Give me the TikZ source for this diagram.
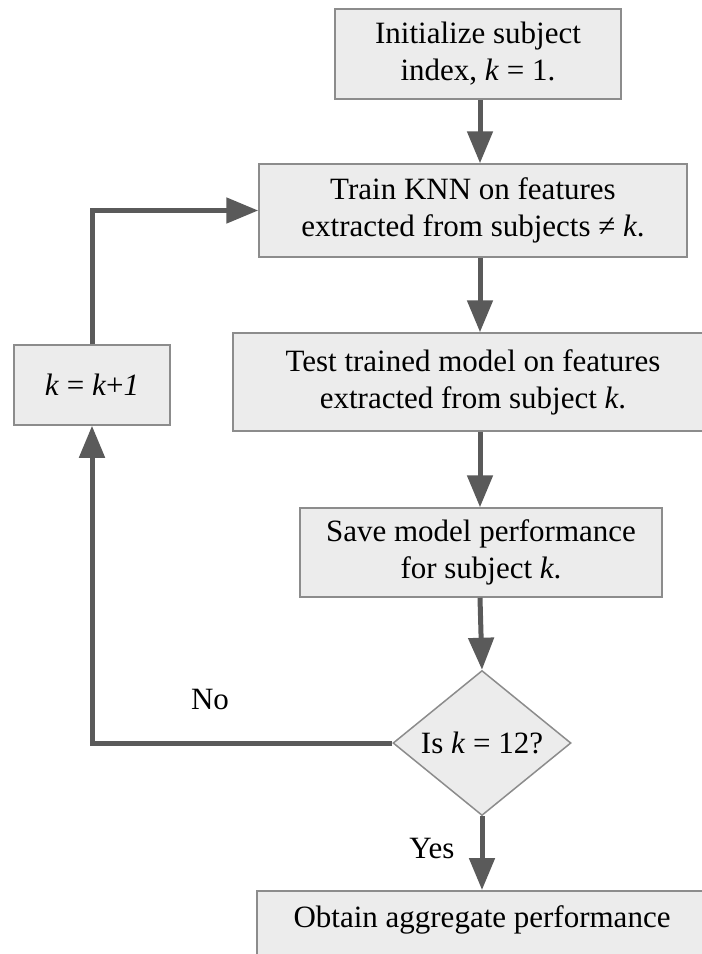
\documentclass[tikz,border=0pt]{standalone}
\usepackage{fontspec}
\setmainfont{Liberation Serif}
\usetikzlibrary{shapes.geometric,arrows.meta}
\definecolor{boxfill}{HTML}{ECECEC}
\definecolor{boxline}{HTML}{8C8C8C}
\definecolor{arrowc}{HTML}{5A5A5A}
\tikzset{
  stepbox/.style={draw=boxline, line width=1.5pt, fill=boxfill, align=center, inner sep=0pt},
  decbox/.style={diamond, draw=boxline, line width=1.5pt, fill=boxfill, inner sep=0pt, minimum width=178pt, minimum height=145pt},
  flow/.style={draw=arrowc, line width=5pt, -{Triangle[length=32pt,width=25pt]}},
  plainflow/.style={draw=arrowc, line width=5pt},
  lbl/.style={inner sep=0pt}
}
\begin{document}
\begin{tikzpicture}[x=1pt,y=-1pt,font=\fontsize{31}{37}\selectfont]
\useasboundingbox (0,0) rectangle (702,954);
\fill[white] (0,0) rectangle (702,954);
\clip (0,0) rectangle (702,954);
\node[stepbox, minimum width=286pt, minimum height=90pt] (init) at (478,54) {Initialize subject\\index, \textit{k} = 1.};
\node[stepbox, minimum width=428pt, minimum height=93pt] (train) at (473,210.5) {Train KNN on features\\extracted from subjects ≠ \textit{k}.};
\node[stepbox, minimum width=480pt, minimum height=98pt] (test) at (473,382) {Test trained model on features\\extracted from subject \textit{k}.};
\node[stepbox, minimum width=362pt, minimum height=89pt] (save) at (481,552.5) {Save model performance\\for subject \textit{k}.};
\node[decbox] (dec) at (482,743) {Is \textit{k} = 12?};
\node[stepbox, minimum width=156pt, minimum height=80pt] (inc) at (92,385) {\textit{k} = \textit{k}+\textit{1}};
\node[stepbox, anchor=north, minimum width=450pt, text height=37pt, text depth=40pt] (agg) at (482,890) {Obtain aggregate performance};
\node[lbl] (no) at (210,699) {No};
\node[lbl] (yes) at (432,848) {Yes};
\coordinate (c1) at (480,0);
\draw[flow] (c1 |- init.south) -- (c1 |- train.north);
\draw[flow] (c1 |- train.south) -- (c1 |- test.north);
\draw[flow] (c1 |- test.south) -- (c1 |- save.north);
\draw[flow] (c1 |- save.south) -- (dec.north);
\draw[flow] (dec.south) -- (dec.south |- agg.north);
\draw[flow] (dec.west) -| (inc.south);
\draw[flow] (inc.north) |- (train.west);
\end{tikzpicture}
\end{document}
